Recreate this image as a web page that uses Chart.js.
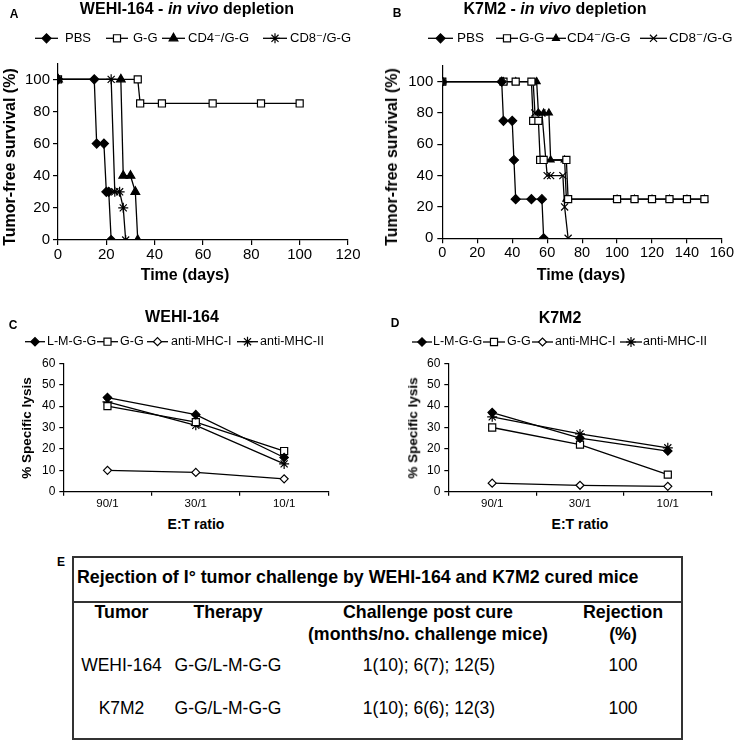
<!DOCTYPE html>
<html>
<head>
<meta charset="utf-8">
<script src="https://cdn.jsdelivr.net/npm/chart.js@4.4.1/dist/chart.umd.min.js"></script>
<style>
  body { margin: 0; background: #fff; }
  #page { position: relative; width: 735px; height: 740px; overflow: hidden; font-family: 'Liberation Sans', Arial, sans-serif; color: #000; }
  canvas { position: absolute; }
  .t { position: absolute; transform: translate(-50%, -50%); white-space: nowrap; line-height: 1; }
  .rot { transform: translate(-50%, -50%) rotate(-90deg); }
  .b { font-weight: bold; }
</style>
</head>
<body>
<div id="page">
  <canvas id="chartA" width="365" height="268" style="left:0;top:0"></canvas>
  <canvas id="chartB" width="370" height="268" style="left:365px;top:0"></canvas>
  <canvas id="chartC" width="365" height="215" style="left:0;top:300px"></canvas>
  <canvas id="chartD" width="370" height="215" style="left:365px;top:300px"></canvas>

  <div class="t b" style="left:14px;top:14px;font-size:12px">A</div>
  <div class="t b" style="left:187px;top:9px;font-size:16px">WEHI-164 - <i>in vivo</i> depletion</div>
  <div class="t b rot" style="left:10px;top:157px;font-size:16px">Tumor-free survival (%)</div>
  <div class="t b" style="left:185px;top:275px;font-size:16px">Time (days)</div>

  <div class="t b" style="left:397px;top:13px;font-size:12px">B</div>
  <div class="t b" style="left:555px;top:9px;font-size:16px">K7M2 - <i>in vivo</i> depletion</div>
  <div class="t b rot" style="left:392px;top:157px;font-size:16px">Tumor-free survival (%)</div>
  <div class="t b" style="left:581px;top:275px;font-size:16px">Time (days)</div>

  <div class="t b" style="left:13px;top:325px;font-size:12px">C</div>
  <div class="t b" style="left:182px;top:317px;font-size:16px">WEHI-164</div>
  <div class="t b rot" style="left:27px;top:428px;font-size:13.5px">% Specific lysis</div>
  <div class="t b" style="left:196px;top:524px;font-size:14px">E:T ratio</div>

  <div class="t b" style="left:395px;top:323px;font-size:12px">D</div>
  <div class="t b" style="left:560px;top:318px;font-size:16px">K7M2</div>
  <div class="t b rot" style="left:413px;top:428px;font-size:13.5px">% Specific lysis</div>
  <div class="t b" style="left:580px;top:524px;font-size:14px">E:T ratio</div>

  <div class="t b" style="left:61px;top:562px;font-size:12px">E</div>
  <div id="table" style="position:absolute;left:72px;top:556px;width:611px;height:184px;border:2px solid #333;box-sizing:border-box"></div>
  <div style="position:absolute;left:72px;top:601px;width:611px;height:2px;background:#333"></div>
</div>

<script>
// A: WEHI-164 in vivo depletion (days, % tumor-free)
const wehiPbsDays = [0, 15, 16, 19, 20, 21, 22];
const wehiPbsSurv = [100, 100, 60, 60, 30, 30, 0];
const wehiGgDays = [0, 33, 34, 43, 64, 84, 100];
const wehiGgSurv = [100, 100, 85, 85, 85, 85, 85];
const wehiCd4Days = [0, 26, 27, 30, 32, 33];
const wehiCd4Surv = [100, 100, 40, 40, 30, 0];
const wehiCd8Days = [0, 22, 23.5, 25.5, 27, 28];
const wehiCd8Surv = [100, 100, 30, 30, 20, 0];

// B: K7M2 in vivo depletion
const k7PbsDays = [0, 34, 35, 40, 41, 42, 51, 57, 58];
const k7PbsSurv = [100, 100, 75, 75, 50, 25, 25, 25, 0];
const k7GgDays = [0, 35, 42, 51, 52, 55, 56, 58, 71, 72, 100, 110, 120, 130, 140, 150];
const k7GgSurv = [100, 100, 100, 100, 75, 75, 50, 50, 50, 25, 25, 25, 25, 25, 25, 25];
const k7Cd4Days = [0, 35, 42, 54, 55, 58, 61, 62, 70, 71, 100, 110, 120, 130, 140, 150];
const k7Cd4Surv = [100, 100, 100, 100, 80, 80, 80, 50, 50, 25, 25, 25, 25, 25, 25, 25];
const k7Cd8Days = [0, 35, 42, 52, 53, 57, 60, 62, 69, 70, 72];
const k7Cd8Surv = [100, 100, 100, 100, 80, 80, 40, 40, 40, 20, 0];

// C, D: specific lysis
const ratios = ['90/1', '30/1', '10/1'];
const wehiLysisLmgg = [44, 36, 16];
const wehiLysisGg = [40, 32.5, 19];
const wehiLysisMhc1 = [10, 9, 6];
const wehiLysisMhc2 = [42, 31, 13];
const k7LysisLmgg = [37, 25, 19];
const k7LysisGg = [30, 22, 8];
const k7LysisMhc1 = [4, 3, 2.5];
const k7LysisMhc2 = [35, 27, 20.5];

// E: table
const tableTitle = 'Rejection of I\u00B0 tumor challenge by WEHI-164 and K7M2 cured mice';
const tableHead = [['Tumor', ''], ['Therapy', ''], ['Challenge post cure', '(months/no. challenge mice)'], ['Rejection', '(%)']];
const tableRows = [
  ['WEHI-164', 'G-G/L-M-G-G', '1(10); 6(7); 12(5)', '100'],
  ['K7M2', 'G-G/L-M-G-G', '1(10); 6(6); 12(3)', '100'],
];

Chart.defaults.font.family = "'Liberation Sans', Arial, sans-serif";
Chart.defaults.color = '#000';

const pts = (xs, ys) => xs.map((x, i) => ({ x: x, y: ys[i] }));

// marker styles
const diamond = { pointStyle: 'rectRot', pointRadius: 4.5, pointBackgroundColor: '#000' };
const square = { pointStyle: 'rect', pointRadius: 5, pointBackgroundColor: '#fff' };
const triangle = { pointStyle: 'triangle', pointRadius: 5, pointBackgroundColor: '#000' };
const asterisk = { pointStyle: 'star', pointRadius: 5, pointBackgroundColor: '#000' };
const cross = { pointStyle: 'crossRot', pointRadius: 5, pointBackgroundColor: '#000' };
const openDiamond = { pointStyle: 'rectRot', pointRadius: 4, pointBackgroundColor: '#fff' };

const series = function (label, data, marker) {
  return Object.assign({
    label: label,
    data: data,
    borderColor: '#000',
    borderWidth: 1.3,
    pointBorderColor: '#000',
    pointBorderWidth: 1.2,
    pointHoverRadius: marker.pointRadius,
    showLine: true,
    tension: 0,
    fill: false,
  }, marker);
};

// legend drawn as Excel-style line + marker + text
const lineLegend = {
  id: 'lineLegend',
  afterDraw(chart, args, opts) {
    const ctx = chart.ctx;
    ctx.save();
    ctx.font = opts.font;
    ctx.textBaseline = 'middle';
    chart.data.datasets.forEach(function (ds, i) {
      const it = opts.items[i];
      ctx.strokeStyle = '#000';
      ctx.lineWidth = ds.borderWidth;
      ctx.beginPath();
      ctx.moveTo(it[0], opts.y);
      ctx.lineTo(it[1], opts.y);
      ctx.stroke();
      ctx.fillStyle = ds.pointBackgroundColor;
      ctx.lineWidth = ds.pointBorderWidth;
      Chart.helpers.drawPoint(ctx, { pointStyle: ds.pointStyle, radius: ds.pointRadius, rotation: 0, borderWidth: ds.pointBorderWidth }, (it[0] + it[1]) / 2, opts.y);
      ctx.fillStyle = '#000';
      ctx.fillText(ds.label, it[2], opts.y);
    });
    ctx.restore();
  },
};

const axisGrid = (len) => ({ drawOnChartArea: false, drawTicks: true, tickLength: len, color: '#000', lineWidth: 1.2 });

const survivalChart = function (id, datasets, xMax, lay, legend, minorTicks) {
  return new Chart(document.getElementById(id), {
    type: 'scatter',
    data: { datasets: datasets },
    plugins: [lineLegend],
    options: {
      responsive: false,
      animation: false,
      devicePixelRatio: 1,
      layout: { padding: { top: lay.top, right: lay.right, bottom: 0, left: 0 } },
      plugins: { legend: { display: false }, tooltip: { enabled: false }, lineLegend: legend },
      scales: {
        x: {
          type: 'linear', min: 0, max: xMax,
          ticks: { stepSize: 20, padding: 1, maxRotation: 0, font: { size: lay.xFont } },
          grid: axisGrid(5),
          border: { color: '#000', width: 1.2 },
          afterFit: (s) => { s.height = lay.xH; },
        },
        y: {
          min: 0, max: 110,
          ticks: {
            stepSize: 10, padding: lay.yPad, font: { size: 15 },
            callback: (v) => (v % 20 === 0 && v <= 100 ? v : ''),
          },
          grid: Object.assign(axisGrid(5), {
            color: (c) => (minorTicks || c.tick.value % 20 === 0 || c.tick.value === 110 ? '#000' : 'rgba(0,0,0,0)'),
          }),
          border: { color: '#000', width: 1.2 },
          afterFit: (s) => { s.width = lay.yW; },
        },
      },
    },
  });
};

const lysisChart = function (id, datasets, lay, legend) {
  return new Chart(document.getElementById(id), {
    type: 'line',
    data: { labels: ratios, datasets: datasets },
    plugins: [lineLegend],
    options: {
      responsive: false,
      animation: false,
      devicePixelRatio: 1,
      layout: { padding: { top: lay.top, right: lay.right, bottom: 0, left: 0 } },
      plugins: { legend: { display: false }, tooltip: { enabled: false }, lineLegend: legend },
      scales: {
        x: {
          type: 'category', offset: true,
          ticks: { padding: 1, maxRotation: 0, autoSkip: false, font: { size: 11.5 } },
          grid: Object.assign(axisGrid(4), { offset: true }),
          border: { color: '#000', width: 1.2 },
          afterFit: (s) => { s.height = lay.xH; },
        },
        y: {
          min: 0, max: 60,
          ticks: { stepSize: 10, padding: 4, font: { size: 12 } },
          grid: axisGrid(4),
          border: { color: '#000', width: 1.2 },
          afterFit: (s) => { s.width = lay.yW; },
        },
      },
    },
  });
};

document.addEventListener('DOMContentLoaded', function () {
  survivalChart('chartA', [
    series('PBS', pts(wehiPbsDays, wehiPbsSurv), diamond),
    series('G-G', pts(wehiGgDays, wehiGgSurv), square),
    series('CD4\u207B/G-G', pts(wehiCd4Days, wehiCd4Surv), triangle),
    series('CD8\u207B/G-G', pts(wehiCd8Days, wehiCd8Surv), asterisk),
  ], 120, { top: 63.3, right: 17, xH: 28, yW: 58, yPad: 3, xFont: 15 },
  { y: 38.3, font: "13px 'Liberation Sans', 'DejaVu Sans', sans-serif", items: [[35, 58, 65], [106, 128, 133], [162, 185, 188], [263, 287, 290]] }, false);

  survivalChart('chartB', [
    series('PBS', pts(k7PbsDays, k7PbsSurv), diamond),
    series('G-G', pts(k7GgDays, k7GgSurv), square),
    series('CD4\u207B/G-G', pts(k7Cd4Days, k7Cd4Surv), Object.assign({}, triangle, { pointRadius: 4 })),
    series('CD8\u207B/G-G', pts(k7Cd8Days, k7Cd8Surv), cross),
  ], 160, { top: 66, right: 11.7, xH: 29.7, yW: 77.3, yPad: 4, xFont: 14.5 },
  { y: 38.3, font: "13.5px 'Liberation Sans', 'DejaVu Sans', sans-serif", items: [[63, 88, 92], [131, 153, 154], [181, 201, 202], [275, 302, 304]] }, true);

  lysisChart('chartC', [
    series('L-M-G-G', wehiLysisLmgg, Object.assign({}, diamond, { pointRadius: 4.2 })),
    series('G-G', wehiLysisGg, square),
    series('anti-MHC-I', wehiLysisMhc1, openDiamond),
    series('anti-MHC-II', wehiLysisMhc2, asterisk),
  ], { top: 63.3, right: 36.7, xH: 23.3, yW: 63.3 },
  { y: 41.7, font: "12.5px 'Liberation Sans', sans-serif", items: [[25, 45, 47], [97, 118, 120], [147, 168, 171], [237, 258, 260]] });

  lysisChart('chartD', [
    series('L-M-G-G', k7LysisLmgg, Object.assign({}, diamond, { pointRadius: 4.2 })),
    series('G-G', k7LysisGg, square),
    series('anti-MHC-I', k7LysisMhc1, openDiamond),
    series('anti-MHC-II', k7LysisMhc2, asterisk),
  ], { top: 63.3, right: 23.3, xH: 23.3, yW: 83.3 },
  { y: 42, font: "12.5px 'Liberation Sans', sans-serif", items: [[47, 67, 68], [118, 140, 142], [167, 188, 190], [255, 277, 278]] });

  // table E (positions relative to the inside of the table box)
  const box = document.getElementById('table');
  const colX = [47.5, 154, 354, 549];
  const place = function (text, x, y, bold, size, left) {
    const d = document.createElement('div');
    d.className = 't' + (bold ? ' b' : '');
    d.style.left = x + 'px';
    d.style.top = y + 'px';
    d.style.fontSize = size + 'px';
    if (left) d.style.transform = 'translate(0,-50%)';
    d.textContent = text;
    box.appendChild(d);
  };
  place(tableTitle, 3, 20, true, 17.8, true);
  tableHead.forEach(function (h, i) {
    place(h[0], colX[i], 54.7, true, 17.8);
    if (h[1]) place(h[1], colX[i], 77, true, 17.8);
  });
  tableRows.forEach(function (r, j) {
    r.forEach(function (cell, i) {
      place(cell, colX[i] + (i === 2 ? 1 : 0), 108 + j * 43.3, false, 17.5);
    });
  });
});
</script>
</body>
</html>
